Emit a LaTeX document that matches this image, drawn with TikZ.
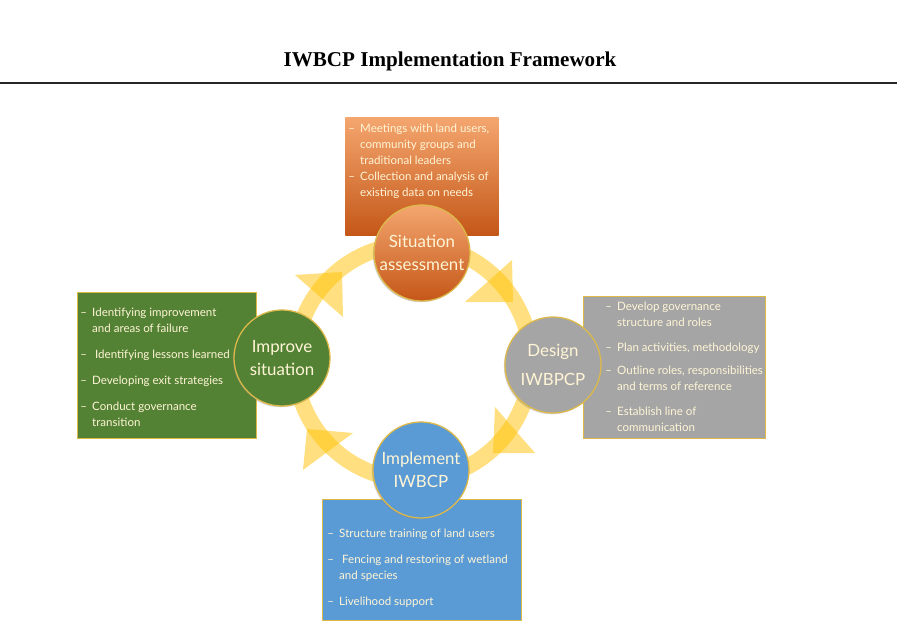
\documentclass[tikz,border=0pt]{standalone}
\usepackage{fontspec}
\setmainfont{Liberation Serif}
\newfontfamily\cmcfont{Lato}
\usetikzlibrary{positioning,shadows}

\definecolor{orlight}{HTML}{F4A66F}
\definecolor{ordark}{HTML}{C45718}
\definecolor{grayfill}{HTML}{A5A5A5}
\definecolor{bluefill}{HTML}{5B9BD5}
\definecolor{greenfill}{HTML}{548235}
\definecolor{goldline}{HTML}{DDB94A}
\definecolor{cream}{HTML}{FFF5D6}
\definecolor{ringyel}{HTML}{FFC000}

\newcommand{\bul}{\makebox[8.5pt][l]{–}}
\newcommand{\ind}{\hspace*{8.5pt}}

\begin{document}
\begin{tikzpicture}[x=0.025cm,y=0.025cm,
  stage/.style={circle, minimum size=2.4cm, inner sep=0pt, draw=goldline, line width=0.9pt,
    text=cream, align=center, font=\cmcfont\fontsize{12}{16}\selectfont,
    drop shadow={shadow xshift=-0.8pt, shadow yshift=-0.9pt, opacity=0.35}},
  listbox/.style={rectangle, draw=goldline, line width=0.7pt, inner sep=0pt, anchor=north west},
  listtxt/.style={anchor=north west, inner sep=0pt, align=left, text=cream,
    font=\cmcfont\fontsize{8.2}{11.4}\selectfont},
  ring/.style={draw=ringyel, line width=0.4cm, opacity=0.5},
  arrowhd/.style={fill=ringyel, opacity=0.5}]
\useasboundingbox (0,0) rectangle (900,-636);

% title
\node[font=\bfseries\fontsize{15}{18}\selectfont] (title) at (450,-61) {IWBCP Implementation Framework};
\coordinate (rulel) at (0,-83);
\coordinate (ruler) at (897,-83);
\draw[line width=1.4pt, black!85] (rulel) -- (ruler);

% cycle ring
\coordinate (hub) at (413,-362);
\draw[ring] (hub) circle (118);
\foreach \ax/\ay/\bx/\by/\cx/\cy in {512/260/465/302/513/302, 495/407/535/453/493/453,
                      353/433/303/470/307/429, 295/275/343/317/342/272}
  \fill[arrowhd] (\ax,-\ay) -- (\bx,-\by) -- (\cx,-\cy) -- cycle;

% boxes
\node[listbox, draw=none, top color=orlight, bottom color=ordark, minimum width=3.825cm, minimum height=2.95cm] (sabox) at (345,-117) {};
\node[listbox, fill=greenfill, minimum width=4.475cm, minimum height=3.65cm] (isbox) at (77,-292) {};
\node[listbox, fill=grayfill, minimum width=4.55cm, minimum height=3.55cm] (dibox) at (583,-296) {};
\node[listbox, fill=bluefill, minimum width=4.975cm, minimum height=3.025cm] (imbox) at (322,-499) {};

\node[listtxt] (satxt) at (348,-123.5) {\bul Meetings with land users,\\ \ind community groups and\\ \ind traditional leaders\\
  \bul Collection and analysis of\\ \ind existing data on needs};
\node[listtxt] (istxt) at (80,-307.5) {\bul Identifying improvement\\ \ind and areas of failure\\[7.1pt]
  \bul\ Identifying lessons learned\\[7.1pt] \bul Developing exit strategies\\[7.1pt]
  \bul Conduct governance\\ \ind transition};
\node[listtxt] (ditxt) at (605,-301.5) {\bul Develop governance\\ \ind structure and roles\\[6.4pt]
  \bul Plan activities, methodology\\[5pt] \bul Outline roles, responsibilities\\ \ind and terms of reference\\[6.4pt]
  \bul Establish line of\\ \ind communication};
\node[listtxt] (imtxt) at (327,-529) {\bul Structure training of land users\\[7.1pt]
  \bul\ Fencing and restoring of wetland\\ \ind and species\\[7.1pt] \bul Livelihood support};

% stages
\node[stage, top color=orlight, bottom color=ordark] (sa) at (422,-253) {Situation\\assessment};
\node[stage, fill=grayfill] (di) at (553,-365) {Design\\[4.6pt]IWBPCP};
\node[stage, fill=bluefill] (im) at (421,-470) {Implement\\IWBCP};
\node[stage, fill=greenfill] (is) at (282,-358) {Improve\\situation};
\end{tikzpicture}
\end{document}
